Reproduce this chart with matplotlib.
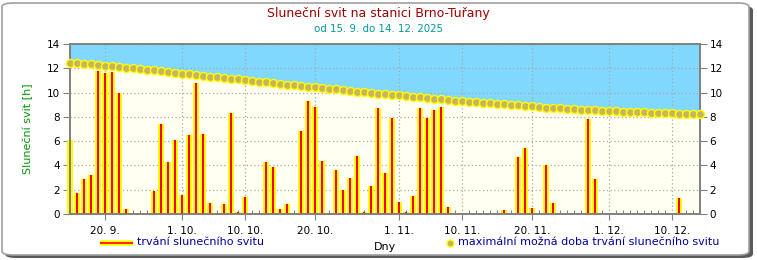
import matplotlib.pyplot as plt
from matplotlib.patches import FancyBboxPatch
from matplotlib.lines import Line2D

# sunshine duration per day, 15.9. .. 14.12.2025 (hours)
sunshine = [6.1, 1.75, 2.9, 3.2, 11.8, 11.6, 11.7, 10.0, 0.4, 0, 0, 0,
            1.9, 7.4, 4.3, 6.1, 1.6, 6.5, 10.8, 6.6, 0.9, 0.05, 0.8, 8.3,
            0.15, 1.4, 0.05, 0, 4.3, 3.9, 0.4, 0.8, 0, 6.8, 9.3, 8.8,
            4.4, 0.05, 3.6, 2.0, 3.0, 4.8, 0.15, 2.3, 8.7, 3.4, 7.9, 1.0,
            0.15, 1.5, 8.7, 7.9, 8.55, 8.8, 0.6, 0, 0.03, 0, 0, 0,
            0, 0, 0.35, 0, 4.7, 5.45, 0.5, 0, 4.05, 0.9, 0, 0,
            0, 0, 7.8, 2.9, 0, 0, 0, 0, 0, 0, 0, 0, 0, 0, 0, 1.3, 0, 0, 0]

# maximum possible sunshine per day (hours)
max_sun = [12.47, 12.42, 12.38, 12.33, 12.27, 12.22, 12.17, 12.11, 12.05, 11.99,
           11.94, 11.88, 11.82, 11.76, 11.69, 11.62, 11.56, 11.49, 11.42, 11.36,
           11.31, 11.27, 11.21, 11.14, 11.08, 11.01, 10.94, 10.88, 10.83, 10.76,
           10.70, 10.65, 10.59, 10.53, 10.47, 10.43, 10.36, 10.31, 10.26, 10.19,
           10.13, 10.08, 10.02, 9.96, 9.90, 9.86, 9.81, 9.77, 9.72, 9.66,
           9.61, 9.56, 9.50, 9.46, 9.40, 9.34, 9.30, 9.25, 9.21, 9.16,
           9.12, 9.07, 9.03, 8.98, 8.94, 8.90, 8.86, 8.82, 8.76, 8.74,
           8.71, 8.67, 8.64, 8.60, 8.58, 8.55, 8.51, 8.49, 8.46, 8.43,
           8.41, 8.39, 8.37, 8.34, 8.32, 8.30, 8.29, 8.27, 8.26, 8.25, 8.24]

days = list(range(len(sunshine)))
tick_pos = [5, 16, 25, 35, 47, 56, 66, 77, 86]
tick_labels = ['20. 9.', '1. 10.', '10. 10.', '20. 10.', '1. 11.',
               '10. 11.', '20. 11.', '1. 12.', '10. 12.']

W, H = 757, 260
fig = plt.figure(figsize=(W / 100, H / 100), dpi=100)
fig.patch.set_facecolor('white')

# rounded frame with shadow
shadow = FancyBboxPatch((5 / W, 2 / H), 748 / W, 252 / H,
                        boxstyle='round,pad=0,rounding_size=0.015',
                        transform=fig.transFigure, facecolor='#5a5a5a',
                        edgecolor='none', zorder=-2)
frame = FancyBboxPatch((2 / W, 5 / H), 747 / W, 252 / H,
                       boxstyle='round,pad=0,rounding_size=0.015',
                       transform=fig.transFigure, facecolor='white',
                       edgecolor='#a0a0a0', linewidth=1.2, zorder=-1)
fig.patches.extend([shadow, frame])

ax = fig.add_axes([70 / W, 46 / H, 630 / W, 170 / H])
ax.set_facecolor('#fffff2')
ax.set_xlim(0, 90)
ax.set_ylim(0, 14)

ax.fill_between(days, max_sun, 14, color='#80d8ff', linewidth=0, zorder=0.5)

ax.set_yticks(range(0, 15, 2))
ax.set_xticks(tick_pos)
ax.set_xticklabels(tick_labels)
ax.set_xticks(days, minor=True)
ax.grid(True, which='major', color='#a8a8a8', linestyle=(0, (1, 2)),
        linewidth=0.9, zorder=1)
ax.set_axisbelow(True)

ax.bar(days, sunshine, width=0.72, color='#ffff00', linewidth=0,
       zorder=2, clip_on=False)
ax.bar(days, sunshine, width=0.4, color='#ff9900', linewidth=0,
       zorder=2.1, clip_on=False)
ax.bar(days, sunshine, width=0.2, color='#ff0000', linewidth=0,
       zorder=2.2, clip_on=False)

ax.plot(days, max_sun, linestyle='none', marker='o', markersize=5.8,
        markerfacecolor='#c8b45c', markeredgecolor='#ffff00',
        markeredgewidth=1.0, zorder=3, clip_on=False)

for s in ax.spines.values():
    s.set_color('#808080')
    s.set_linewidth(1.4)

ax.tick_params(axis='y', which='major', direction='out', length=5,
               color='#808080', labelsize=7.5, left=True, right=True,
               labelleft=True, labelright=True, pad=2)
ax.tick_params(axis='x', which='major', direction='out', length=4,
               color='#808080', labelsize=7.5, pad=5)
ax.tick_params(axis='x', which='minor', direction='in', length=3,
               color='#808080', width=0.8)

ax.set_ylabel('Sluneční svit [h]', color='#009900', fontsize=8, labelpad=10)
ax.set_xlabel('Dny', fontsize=8, labelpad=4)

fig.text(378 / W, 1 - 13 / H, 'Sluneční svit na stanici Brno-Tuřany',
         color='#a00000', fontsize=9, ha='center', va='center')
fig.text(378 / W, 1 - 29 / H, 'od 15. 9. do 14. 12. 2025',
         color='#009999', fontsize=7.4, ha='center', va='center')

# legend
fig.add_artist(Line2D([100 / W, 133 / W], [1 - 243 / H] * 2, color='#ffff00',
                      linewidth=4, solid_capstyle='butt'))
fig.add_artist(Line2D([100 / W, 133 / W], [1 - 243 / H] * 2, color='#ff0000',
                      linewidth=1.2, solid_capstyle='butt'))
fig.text(137 / W, 1 - 242 / H, 'trvání slunečního svitu', color='#0000a0',
         fontsize=8, ha='left', va='center')
fig.add_artist(Line2D([450 / W], [1 - 243 / H], linestyle='none', marker='o',
                      markersize=5, markerfacecolor='#c8b45c',
                      markeredgecolor='#ffff00', markeredgewidth=1.0))
fig.text(458 / W, 1 - 242 / H, 'maximální možná doba trvání slunečního svitu',
         color='#0000a0', fontsize=8, ha='left', va='center')

fig.savefig('out.png', dpi=100)
